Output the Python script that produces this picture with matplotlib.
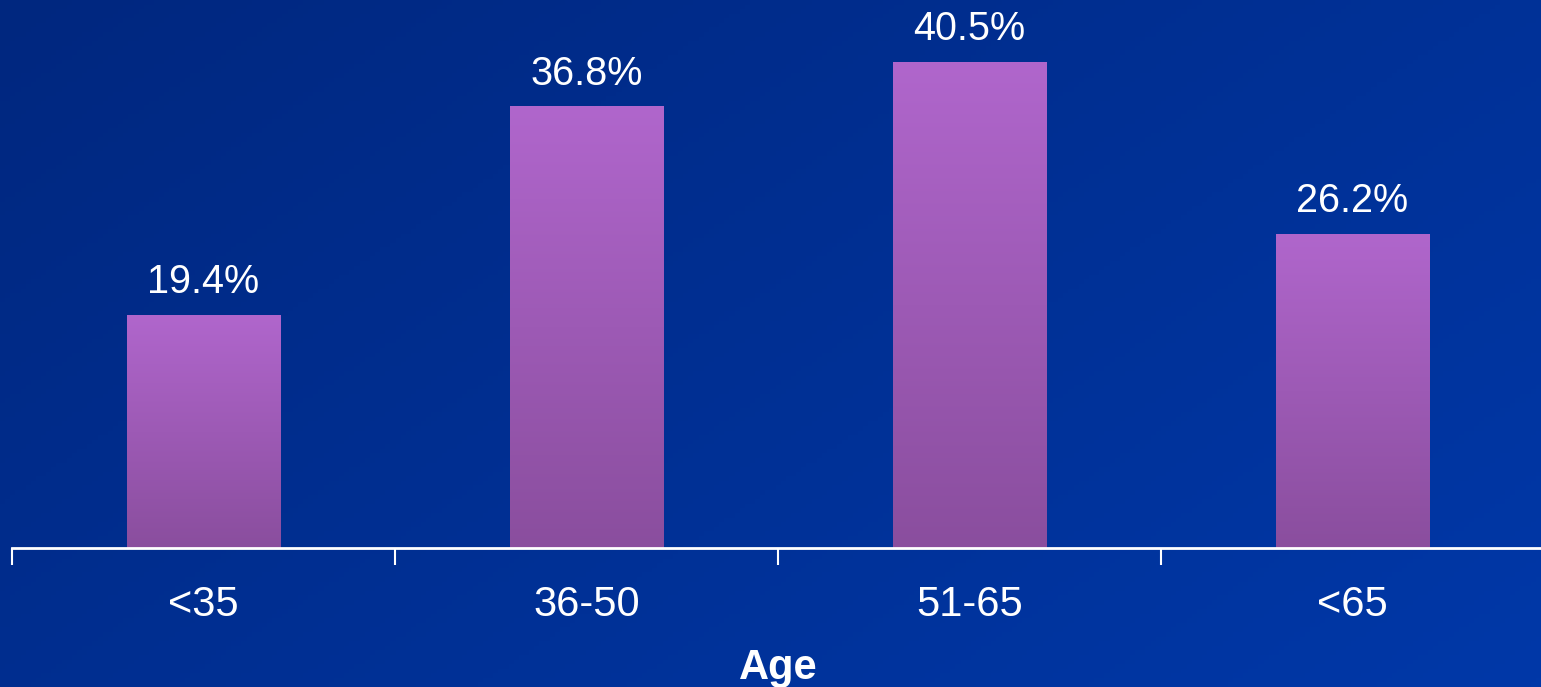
# bar chart of share by age group, blue slide background with gradient bars
import numpy as np
import matplotlib
matplotlib.use("Agg")
import matplotlib.pyplot as plt
from matplotlib.colors import LinearSegmentedColormap

categories = ["<35", "36-50", "51-65", "<65"]
values = [19.4, 36.8, 40.5, 26.2]
value_labels = ["19.4%", "36.8%", "40.5%", "26.2%"]
xlabel = "Age"

plt.rcParams['font.family'] = ['Liberation Sans', 'DejaVu Sans']

fig = plt.figure(figsize=(15.41, 6.87), dpi=100)

# background gradient (darker top-left, lighter bottom-right)
bg = fig.add_axes([0, 0, 1, 1])
xx, yy = np.meshgrid(np.linspace(0, 1, 300), np.linspace(0, 1, 150))
t = 0.6 * xx + 0.4 * yy
bg_cmap = LinearSegmentedColormap.from_list("bg", ["#00277f", "#0038a8"])
bg.imshow(t, cmap=bg_cmap, aspect="auto", extent=[0, 1, 0, 1], origin="upper")
bg.axis("off")

ax = fig.add_axes([12/1541, 139/687, 1532/1541, 548/687])
ax.patch.set_alpha(0)

bar_cmap = LinearSegmentedColormap.from_list("bar", ["#8a4e9e", "#b066cc"])
grad = np.linspace(0, 1, 256).reshape(-1, 1)
x = np.arange(len(categories))
bars = ax.bar(x, values, width=0.40, color="none", edgecolor="none")
for b, v, lab in zip(bars, values, value_labels):
    x0 = b.get_x()
    im = ax.imshow(grad, cmap=bar_cmap, aspect="auto", origin="lower",
                   extent=[x0, x0 + b.get_width(), 0, v], zorder=2)
    im.set_clip_path(b)
    ax.annotate(lab, (b.get_x() + b.get_width()/2, v), xytext=(0, 10),
                textcoords="offset points", ha="center", va="bottom",
                color="white", fontsize=28.5)

ax.set_xlim(-0.5, 3.5)
ax.set_ylim(0, 548/12)

for s in ["top", "right", "left"]:
    ax.spines[s].set_visible(False)
ax.spines["bottom"].set_color("white")
ax.spines["bottom"].set_linewidth(2)
ax.set_yticks([])
ax.set_xticks(x)
ax.set_xticklabels(categories, color="white", fontsize=30)
ax.tick_params(axis="x", which="major", length=0, pad=27)
ax.set_xticks(np.arange(-0.5, 4.0, 1.0), minor=True)
ax.tick_params(axis="x", which="minor", length=12, width=1.5, color="white",
               direction="out")
ax.set_xlabel(xlabel, color="white", fontsize=30, fontweight="bold", labelpad=16)

fig.savefig("out.png", dpi=100)
